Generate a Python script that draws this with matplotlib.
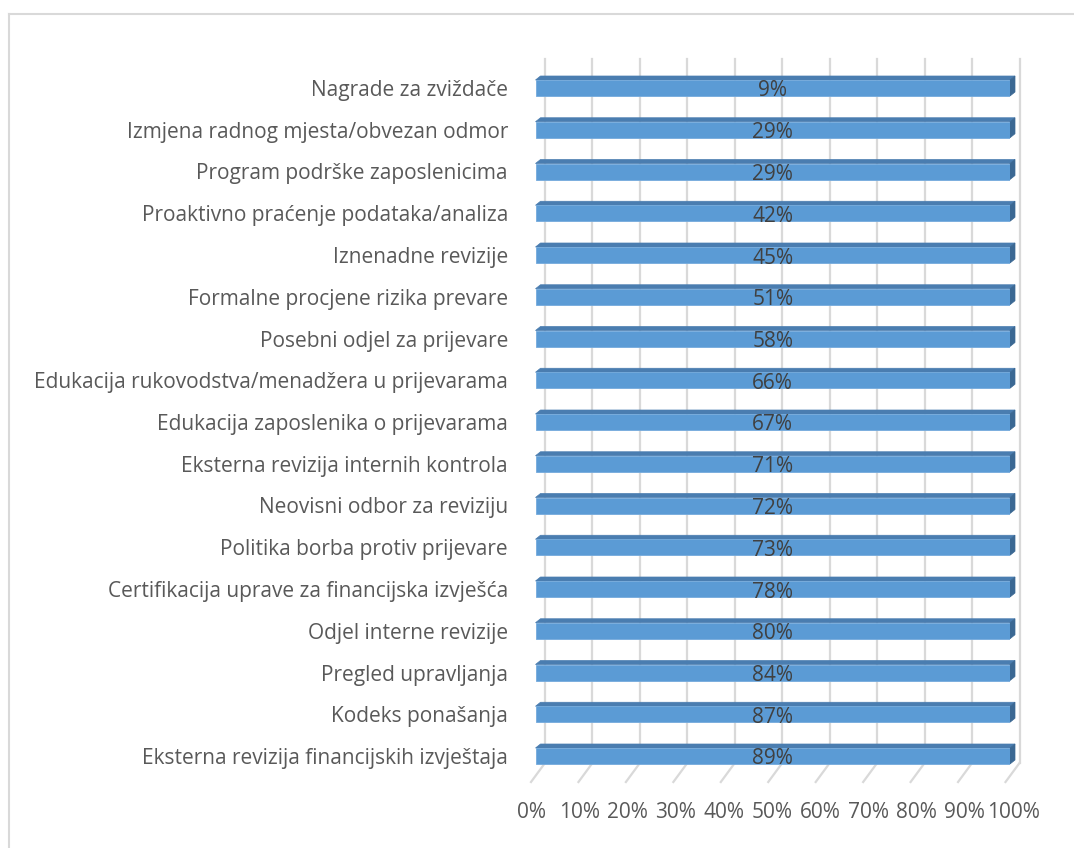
import matplotlib.pyplot as plt
from matplotlib.patches import Polygon
from matplotlib.lines import Line2D

plt.rcParams['font.family'] = ['Open Sans', 'DejaVu Sans']

# kategorije odozgo prema dolje
categories = [
    "Nagrade za zviždače",
    "Izmjena radnog mjesta/obvezan odmor",
    "Program podrške zaposlenicima",
    "Proaktivno praćenje podataka/analiza",
    "Iznenadne revizije",
    "Formalne procjene rizika prevare",
    "Posebni odjel za prijevare",
    "Edukacija rukovodstva/menadžera u prijevarama",
    "Edukacija zaposlenika o prijevarama",
    "Eksterna revizija internih kontrola",
    "Neovisni odbor za reviziju",
    "Politika borba protiv prijevare",
    "Certifikacija uprave za financijska izvješća",
    "Odjel interne revizije",
    "Pregled upravljanja",
    "Kodeks ponašanja",
    "Eksterna revizija financijskih izvještaja",
]
values = [9, 29, 29, 42, 45, 51, 58, 66, 67, 71, 72, 73, 78, 80, 84, 87, 89]
bar_total = [100] * len(categories)   # svi stupci idu do 100%
ticks = [0, 10, 20, 30, 40, 50, 60, 70, 80, 90, 100]

W, H = 1074, 848
fig = plt.figure(figsize=(W / 100, H / 100), dpi=100)

# prednja ploha stupaca: x 0..100 -> 535.5..1010 px, redovi po 41.75 px
x0, x1 = 535.5, 1010
row0, step = 88, 41.75
ax = fig.add_axes([x0 / W, 1 - (row0 + 16.5 * step) / H,
                   (x1 - x0) / W, 17 * step / H])
ax.set_xlim(0, 100)
ax.set_ylim(len(categories) - 0.5, -0.5)
for s in ax.spines.values():
    s.set_visible(False)

ux = 100 / (x1 - x0)   # jedinica po pikselu (x)
uy = 1 / step          # jedinica po pikselu (y)

grid_c = '#d9d9d9'
back_dx = 9.5 * ux
front_dx = -4.5 * ux
back_top = (59 - row0) * uy
back_bot = (763 - row0) * uy
front_bot = (782 - row0) * uy

# stražnji zid i pod (3D)
for t in ticks:
    ax.plot([t + back_dx, t + back_dx], [back_top, back_bot],
            color=grid_c, lw=1.6, zorder=0, clip_on=False)
    ax.plot([t + back_dx, t + front_dx], [back_bot, front_bot],
            color=grid_c, lw=1.6, zorder=0, clip_on=False)

# stupci
h = 16 * uy
dx, dy = 5 * ux, 4 * uy
ypos = list(range(len(categories)))
ax.barh(ypos, bar_total, height=h, color='#5b9bd5', edgecolor='#74aadc',
        linewidth=0.6, zorder=3)
for y, w in zip(ypos, bar_total):
    top, bot = y - h / 2, y + h / 2
    ax.add_patch(Polygon([(0, top), (w, top), (w + dx, top - dy), (dx, top - dy)],
                         closed=True, facecolor='#4a7db0', edgecolor='#4a7db0',
                         lw=0.5, zorder=2, clip_on=False))
    ax.add_patch(Polygon([(w, top), (w + dx, top - dy), (w + dx, bot - dy), (w, bot)],
                         closed=True, facecolor='#3b6893', edgecolor='#3b6893',
                         lw=0.5, zorder=2, clip_on=False))

# oznake vrijednosti
for y, w, v in zip(ypos, bar_total, values):
    ax.text(w / 2, y + 3 * uy, f"{v}%", ha='center', va='center',
            fontsize=15, color='#404040', zorder=5)

# oznake kategorija
ax.set_yticks(ypos)
ax.set_yticklabels(categories, fontsize=15, color='#595959')
ax.tick_params(axis='y', length=0, pad=19.8)

# oznake osi x ispod poda (malo šire razmaknute, kao u Excelu)
ax.set_xticks([])
for t in ticks:
    ax.text(t * 1.016 + front_dx, (812 - row0) * uy, f"{t}%", ha='center',
            va='center', fontsize=15, color='#595959', clip_on=False)

# okvir grafikona
fig.add_artist(Line2D([9 / W, 9 / W], [0, 1 - 14 / H], color=grid_c, lw=1.5))
fig.add_artist(Line2D([9 / W, 1], [1 - 14 / H, 1 - 14 / H], color=grid_c, lw=1.5))

fig.savefig('out.png', dpi=100)
